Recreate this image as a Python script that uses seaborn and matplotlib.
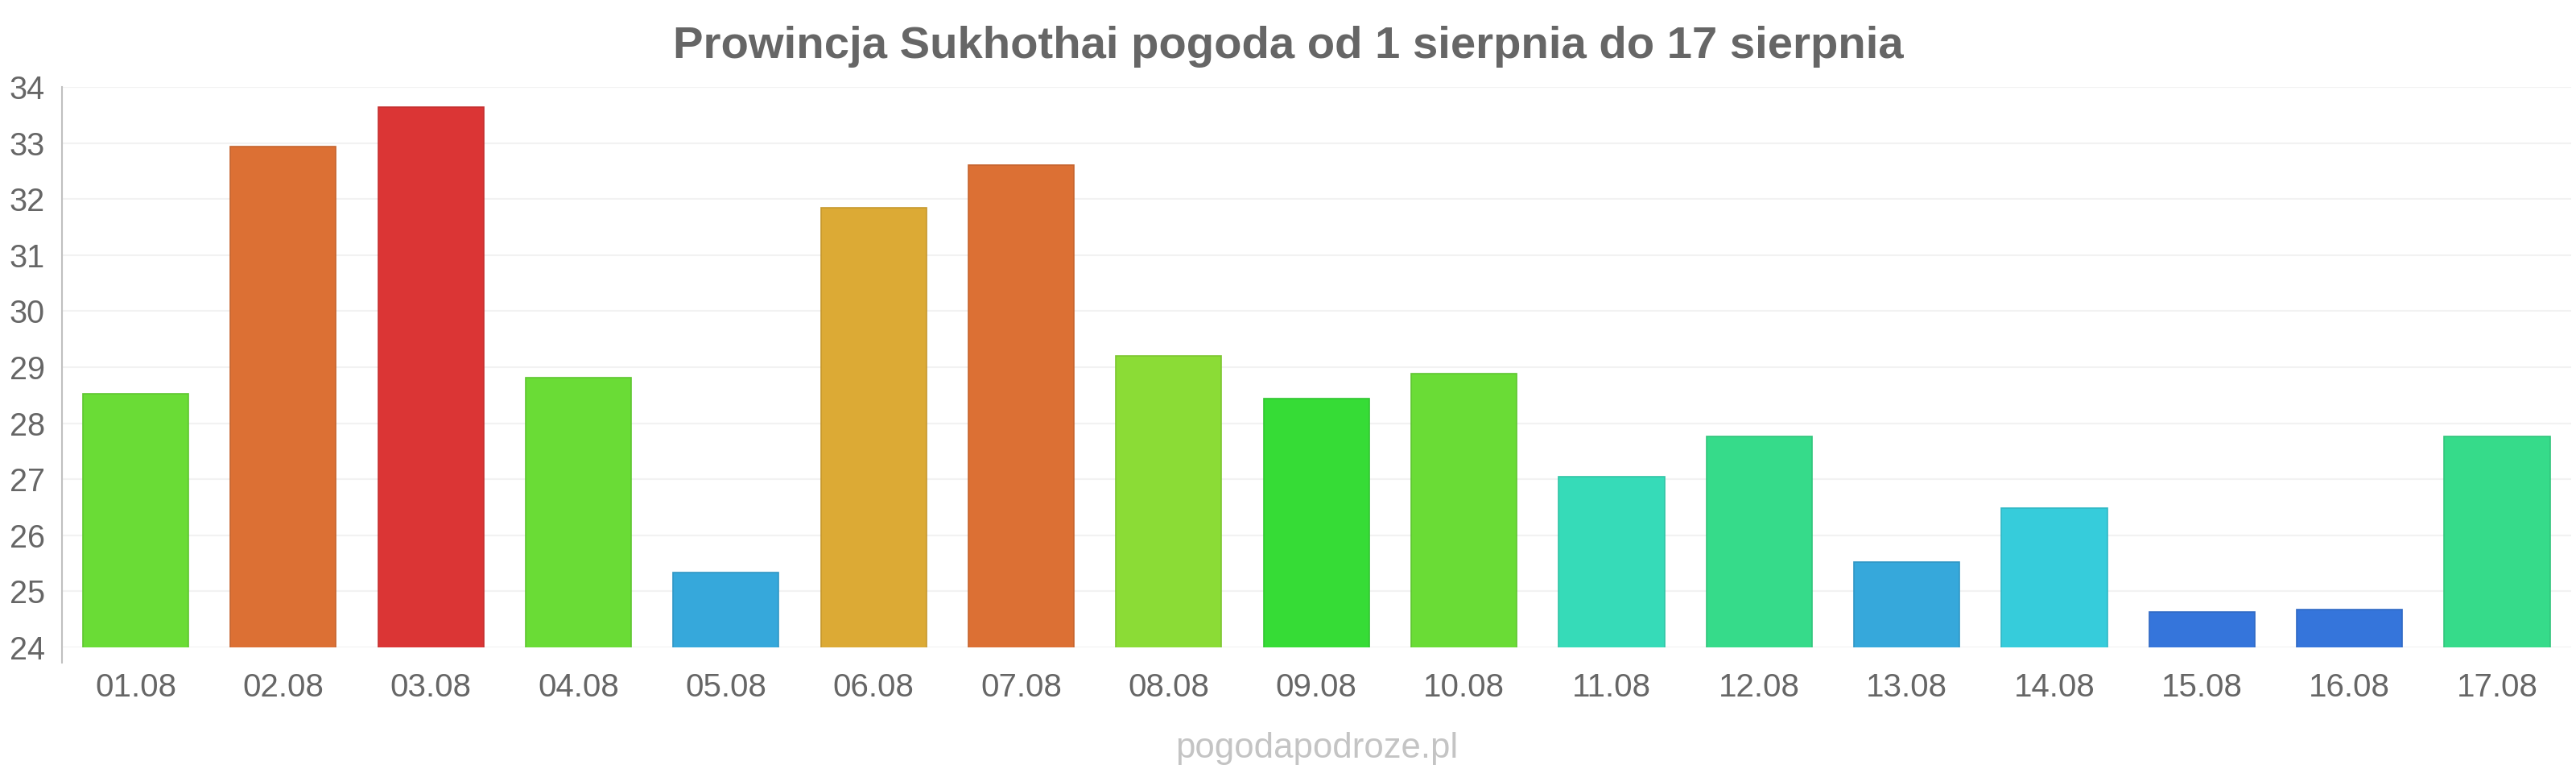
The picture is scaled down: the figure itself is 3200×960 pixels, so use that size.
import numpy as np
import pandas as pd
import matplotlib
matplotlib.use("Agg")
import matplotlib.pyplot as plt
import matplotlib.colors as mcolors
import seaborn as sns

# Daily values
dates = ["01.08", "02.08", "03.08", "04.08", "05.08", "06.08", "07.08", "08.08", "09.08",
         "10.08", "11.08", "12.08", "13.08", "14.08", "15.08", "16.08", "17.08"]
temps = [28.53, 32.93, 33.64, 28.81, 25.33, 31.85, 32.61, 29.2, 28.44,
         28.89, 27.04, 27.77, 25.52, 26.48, 24.63, 24.67, 27.77]
bar_colors = ["#6adc36", "#dc7034", "#db3535", "#6adc36", "#36a8db", "#dcaa35", "#dc7034",
              "#8bdc36", "#36dc36", "#6adc36", "#36dbb8", "#36db8a", "#36a8db", "#36ccdb",
              "#3575db", "#3575db", "#36db8a"]
y_ticks = list(range(24, 35))

title_text = "Prowincja Sukhothai pogoda od 1 sierpnia do 17 sierpnia"
watermark = "pogodapodroze.pl"

df = pd.DataFrame({"date": dates, "temp": temps})

sns.set_style("white")
plt.rcParams["font.family"] = ["Liberation Sans", "DejaVu Sans"]

fig = plt.figure(figsize=(32, 9.6), dpi=100)
ax = fig.add_axes([0.024, 0.1625, 0.974, 0.725])

sns.barplot(data=df, x="date", y="temp", hue="date", palette=bar_colors,
            legend=False, width=0.716, ax=ax, saturation=1)

# slightly darker outline on each bar, as in the reference
for patch, col in zip(ax.patches, bar_colors):
    rgb = np.array(mcolors.to_rgb(col)) * 0.9
    patch.set_edgecolor(rgb)
    patch.set_linewidth(1.2)

ax.set_ylim(24, 34)
ax.set_xlim(-0.5, len(dates) - 0.5)
ax.set_yticks(y_ticks)
ax.set_xlabel("")
ax.set_ylabel("")

ax.grid(axis="y", color="#f2f2f2", linewidth=1.5)
ax.set_axisbelow(True)

for side in ["top", "right", "bottom"]:
    ax.spines[side].set_visible(False)
ax.spines["left"].set_color("#c0c0c0")
ax.spines["left"].set_linewidth(1.5)
ax.spines["left"].set_bounds(23.72, 34)

ax.tick_params(axis="y", length=13, width=1.5, color="#f2f2f2", pad=2,
               labelsize=28.5, labelcolor="#666666")
ax.tick_params(axis="x", length=0, pad=22, labelsize=29, labelcolor="#666666")

fig.text(0.5, 0.940, title_text, ha="center", va="center", fontsize=40.5,
         fontweight="bold", color="#666666")
# watermark is centred on the plotting area
fig.text(0.024 + 0.974 / 2, 0.032, watermark, ha="center", va="center", fontsize=31.5,
         color="#c4c4c4")

plt.savefig("out.png", dpi=100)
